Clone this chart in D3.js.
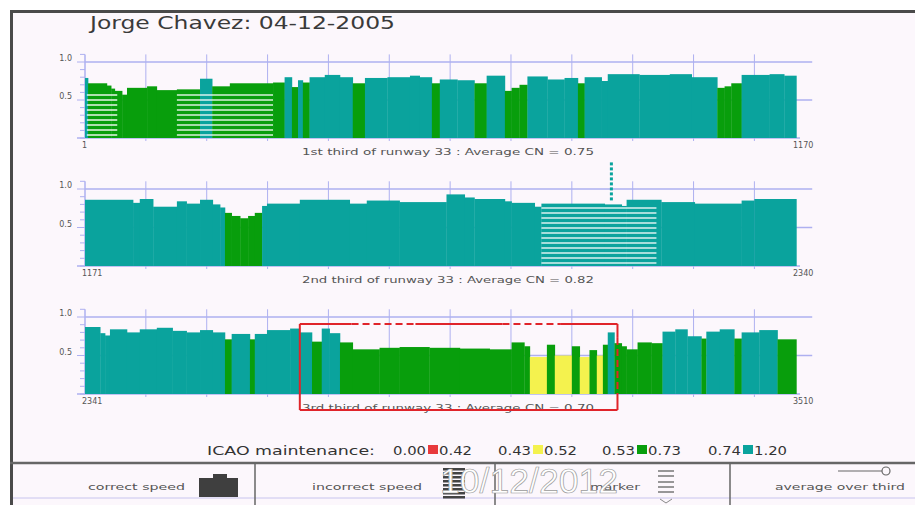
<!DOCTYPE html>
<html>
<head>
<meta charset="utf-8">
<script src="https://cdn.jsdelivr.net/npm/d3@7"></script>
<style>
  body { margin: 0; background: #fff; }
  svg { display: block; }
</style>
</head>
<body>
<svg id="chart"></svg>
<script>
// runway thirds (meters)
const thirdStart = [1, 1171, 2341];
const thirdEnd = [1170, 2340, 3510];
const thirdCaption = [
  "1st third of runway 33 : Average CN = 0.75",
  "2nd third of runway 33 : Average CN = 0.82",
  "3rd third of runway 33 : Average CN = 0.70"
];

// friction runs: [offset in third (m), CN]
const cnThird1 = [[0,0.79],[5,0.72],[36,0.69],[43,0.65],[49,0.62],[61,0.57],[69,0.66],[102,0.68],[118,0.63],
  [151,0.64],[189,0.78],[209,0.68],[238,0.72],[309,0.73],[328,0.80],[340,0.67],[350,0.76],[358,0.73],
  [369,0.80],[394,0.83],[419,0.80],[440,0.72],[460,0.79],[497,0.80],[534,0.82],[550,0.80],[570,0.72],
  [583,0.77],[612,0.76],[640,0.72],[660,0.82],[690,0.62],[701,0.66],[714,0.70],[727,0.81],[760,0.77],
  [788,0.79],[810,0.72],[821,0.80],[849,0.75],[859,0.84],[911,0.83],[961,0.84],[997,0.80],[1039,0.66],
  [1051,0.68],[1062,0.72],[1079,0.83],[1125,0.84],[1149,0.82]];
const cnThird2 = [[0,0.86],[79,0.82],[90,0.87],[112,0.77],[151,0.84],[167,0.81],[189,0.86],[210,0.80],
  [222,0.76],[230,0.69],[241,0.65],[255,0.62],[268,0.65],[279,0.69],[291,0.78],[299,0.81],[353,0.86],
  [435,0.81],[463,0.85],[517,0.83],[594,0.93],[624,0.89],[640,0.87],[690,0.84],[701,0.82],[739,0.77],
  [750,0.81],[854,0.80],[882,0.78],[890,0.86],[947,0.83],[1002,0.81],[1079,0.85],[1100,0.87]];
const cnThird3 = [[0,0.87],[25,0.79],[33,0.76],[41,0.84],[69,0.80],[90,0.84],[118,0.86],[144,0.82],
  [167,0.80],[189,0.83],[210,0.80],[230,0.71],[241,0.78],[271,0.71],[279,0.78],[299,0.83],[337,0.85],
  [353,0.80],[373,0.68],[389,0.85],[402,0.79],[419,0.67],[440,0.58],[484,0.60],[517,0.61],[566,0.60],
  [616,0.59],[665,0.58],[701,0.67],[722,0.62],[731,0.48],[759,0.64],[772,0.50],[800,0.62],[813,0.48],
  [829,0.57],[841,0.50],[851,0.64],[859,0.80],[870,0.66],[882,0.62],[890,0.58],[908,0.67],[931,0.66],
  [949,0.81],[970,0.84],[990,0.75],[1013,0.72],[1021,0.81],[1043,0.84],[1067,0.72],[1079,0.80],
  [1108,0.83],[1138,0.71]];
const cnRuns = [cnThird1, cnThird2, cnThird3];

// incorrect speed stretches and markers (offset in third, m)
const incorrectSpeed = [[[3,53],[151,309]], [[750,939]], []];
const markers = [[], [865], []];
const markerTop = 1.34;
const highlight = [353, 875]; // red box on 3rd third

// ICAO maintenance bands
const bandLow = ["0.00", "0.43", "0.53", "0.74"];
const bandHigh = ["0.42", "0.52", "0.73", "1.20"];
const bandColor = ["#e8393c", "#f4f24e", "#089e0c", "#0aa39d"];
const bandLimit = [0.425, 0.525, 0.735, 1.2];

const legendCells = ["correct speed", "incorrect speed", "marker", "average over third"];

const W = 915, H = 505;
const svg = d3.select("#chart").attr("width", W).attr("height", H)
  .style("font-family", "'DejaVu Sans', sans-serif");

svg.append("rect").attr("width", W).attr("height", H).attr("fill", "#fff");
svg.append("rect").attr("x", 11).attr("y", 11).attr("width", W - 11).attr("height", H - 11).attr("fill", "#fcf7fc");
svg.append("line").attr("x1", 10).attr("x2", W).attr("y1", 11.5).attr("y2", 11.5).attr("stroke", "#4a4a4a").attr("stroke-width", 3);
svg.append("line").attr("x1", 11.5).attr("x2", 11.5).attr("y1", 10).attr("y2", H).attr("stroke", "#4a4a4a").attr("stroke-width", 3);

svg.append("text").attr("x", 90).attr("y", 29)
  .attr("font-size", 17).attr("fill", "#3a3a3a")
  .attr("textLength", 305).attr("lengthAdjust", "spacingAndGlyphs")
  .text("Jorge Chavez:  04-12-2005");

const gridColor = "#aeb0f0";
const colorOf = v => bandColor[bandLimit.findIndex(l => v <= l)];

const x = d3.scaleLinear().domain([0, 1170]).range([85, 797]);
const panelTop = [62, 189, 317];
const panelBottom = [138, 266, 394];

cnRuns.forEach((runs, i) => {
  const y = d3.scaleLinear().domain([0, 1]).range([panelBottom[i], panelTop[i]]);
  const g = svg.append("g");

  // horizontal grid
  [1.0, 0.5].forEach(v => {
    g.append("line").attr("x1", x(0)).attr("x2", x(1195))
      .attr("y1", y(v)).attr("y2", y(v)).attr("stroke", gridColor).attr("stroke-width", 1.5);
  });
  // vertical grid
  d3.range(100, 1200, 100).forEach(m => {
    g.append("line").attr("x1", x(m)).attr("x2", x(m))
      .attr("y1", y(1.1)).attr("y2", y(0) + 3).attr("stroke", gridColor).attr("stroke-width", 1);
  });
  // baseline + y axis
  g.append("line").attr("x1", x(0) - 8).attr("x2", x(1170) + 3)
    .attr("y1", y(0)).attr("y2", y(0)).attr("stroke", gridColor).attr("stroke-width", 1.5);
  g.append("line").attr("x1", x(0)).attr("x2", x(0))
    .attr("y1", y(1.1)).attr("y2", y(0)).attr("stroke", gridColor).attr("stroke-width", 1.5);
  d3.range(0, 12).forEach(k => {
    const v = k / 10;
    const major = k === 5 || k === 10;
    g.append("line").attr("x1", x(0) - (major ? 8 : 5)).attr("x2", x(0))
      .attr("y1", y(v)).attr("y2", y(v)).attr("stroke", gridColor).attr("stroke-width", 1);
  });
  [1.0, 0.5].forEach(v => {
    g.append("text").attr("x", 72).attr("y", y(v) - 1).attr("text-anchor", "end")
      .attr("font-size", 8).attr("fill", "#555").text(v.toFixed(1));
  });

  // bars
  g.selectAll("rect.run").data(runs).enter().append("rect")
    .attr("class", "run")
    .attr("x", d => x(d[0]))
    .attr("width", (d, j) => x(j < runs.length - 1 ? runs[j + 1][0] : 1169) - x(d[0]) + 0.3)
    .attr("y", d => y(d[1]))
    .attr("height", d => y(0) - y(d[1]))
    .attr("fill", d => colorOf(d[1]));

  // incorrect speed stripes
  incorrectSpeed[i].forEach(([a, b]) => {
    const inside = runs.filter((d, j) => {
      const end = j < runs.length - 1 ? runs[j + 1][0] : 1169;
      return end > a && d[0] < b;
    });
    const topY = y(d3.min(inside, d => d[1])) + 1;
    for (let yy = y(0) - 3; yy > topY; yy -= 5) {
      g.append("line").attr("x1", x(a)).attr("x2", x(b))
        .attr("y1", yy).attr("y2", yy)
        .attr("stroke", "#ffffff").attr("stroke-opacity", 0.85).attr("stroke-width", 1.6);
    }
  });

  // markers
  markers[i].forEach(m => {
    const run = runs.filter(d => d[0] <= m).pop();
    for (let yy = y(run[1]) - 4; yy > y(markerTop); yy -= 5) {
      g.append("rect").attr("x", x(m) - 1.5).attr("y", yy - 3)
        .attr("width", 3).attr("height", 3).attr("fill", colorOf(run[1]));
    }
  });

  // distance labels + caption
  g.append("text").attr("x", 82).attr("y", y(0) + 10)
    .attr("font-size", 8).attr("fill", "#555").text(thirdStart[i]);
  g.append("text").attr("x", x(1170) - 4).attr("y", y(0) + 10)
    .attr("font-size", 8).attr("fill", "#555").text(thirdEnd[i]);
  g.append("text").attr("x", 302).attr("y", y(0) + 17)
    .attr("font-size", 9.5).attr("fill", "#555")
    .attr("textLength", 292).attr("lengthAdjust", "spacingAndGlyphs")
    .text(thirdCaption[i]);

  // red highlight box on 3rd third
  if (i === 2) {
    const red = "#e0242a";
    const x0 = x(highlight[0]), x1 = x(highlight[1]);
    const yT = y(0.91), yB = y(0) + 16;
    const seg = (ax, ay, bx, by, dash) => g.append("line")
      .attr("x1", ax).attr("y1", ay).attr("x2", bx).attr("y2", by)
      .attr("stroke", red).attr("stroke-width", 2)
      .attr("stroke-dasharray", dash ? "7,4" : null);
    seg(x0, yT, x0, yB, false);
    seg(x0, yB, x1, yB, false);
    seg(x0, yT, x(438), yT, false);
    seg(x(438), yT, x(543), yT, true);
    seg(x(543), yT, x(686), yT, false);
    seg(x(686), yT, x(782), yT, true);
    seg(x(782), yT, x1, yT, false);
    seg(x1, yT, x1, yT + 14, false);
    seg(x1, yT + 14, x1, yB - 14, true);
    seg(x1, yB - 14, x1, yB, false);
  }
});

// ICAO legend row
const leg = svg.append("g").attr("font-size", 13).attr("fill", "#333");
leg.append("text").attr("x", 207).attr("y", 455)
  .attr("textLength", 168).attr("lengthAdjust", "spacingAndGlyphs").text("ICAO maintenance:");
const bandX = [393, 498, 602, 708];
bandLow.forEach((lo, k) => {
  const bx = bandX[k];
  leg.append("text").attr("x", bx).attr("y", 455).attr("textLength", 33).attr("lengthAdjust", "spacingAndGlyphs").text(lo);
  leg.append("rect").attr("x", bx + 35).attr("y", 445).attr("width", 10).attr("height", 9).attr("fill", bandColor[k]);
  leg.append("text").attr("x", bx + 46).attr("y", 455).attr("textLength", 33).attr("lengthAdjust", "spacingAndGlyphs").text(bandHigh[k]);
});

// bottom key row
svg.append("line").attr("x1", 10).attr("x2", W).attr("y1", 463).attr("y2", 463).attr("stroke", "#666").attr("stroke-width", 2.5);
svg.append("line").attr("x1", 13).attr("x2", W).attr("y1", 498).attr("y2", 498).attr("stroke", "#c8c4ee").attr("stroke-width", 1);
[255, 495, 730].forEach(dx => {
  svg.append("line").attr("x1", dx).attr("x2", dx).attr("y1", 463).attr("y2", H).attr("stroke", "#666").attr("stroke-width", 1.5);
});
const cellTextX = [88, 312, 590, 775];
const cellTextW = [97, 110, 50, 130];
legendCells.forEach((t, k) => {
  svg.append("text").attr("x", cellTextX[k]).attr("y", 490)
    .attr("font-size", 9).attr("fill", "#555")
    .attr("textLength", cellTextW[k]).attr("lengthAdjust", "spacingAndGlyphs").text(t);
});
// correct speed icon
svg.append("rect").attr("x", 199).attr("y", 478).attr("width", 39).attr("height", 19).attr("fill", "#3f3f3f");
svg.append("rect").attr("x", 213).attr("y", 474).attr("width", 14).attr("height", 5).attr("fill", "#3f3f3f");
// incorrect speed icon
d3.range(468, 498, 4).forEach(yy => {
  svg.append("rect").attr("x", 443).attr("y", yy).attr("width", 22).attr("height", 2.5).attr("fill", "#444");
});
// marker icon
[471, 476, 482, 487, 492].forEach(yy => {
  svg.append("line").attr("x1", 658).attr("x2", 674).attr("y1", yy).attr("y2", yy)
    .attr("stroke", "#777").attr("stroke-width", 1.5);
});
svg.append("path").attr("d", "M660,499 L666,503 L672,499").attr("fill", "none").attr("stroke", "#888");
// average over third icon
svg.append("line").attr("x1", 838).attr("x2", 882).attr("y1", 471).attr("y2", 471).attr("stroke", "#666").attr("stroke-width", 1.2);
svg.append("circle").attr("cx", 886).attr("cy", 471).attr("r", 4).attr("fill", "#fcf7fc").attr("stroke", "#666").attr("stroke-width", 1.2);

// date stamp
svg.append("text").attr("x", 440).attr("y", 493)
  .attr("font-size", 35).attr("font-family", "'Liberation Sans', Arial, sans-serif")
  .attr("fill", "#ffffff").attr("stroke", "#9a9a9a").attr("stroke-width", 0.7)
  .attr("textLength", 178).attr("lengthAdjust", "spacingAndGlyphs")
  .text("10/12/2012");
</script>
</body>
</html>
